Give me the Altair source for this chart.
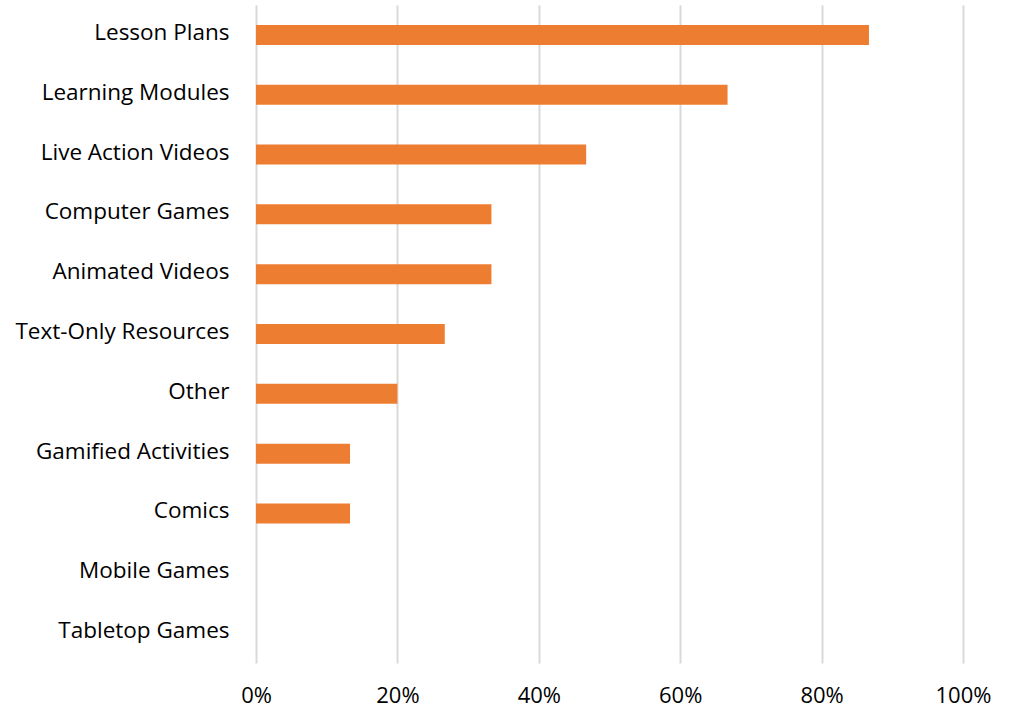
import altair as alt
import pandas as pd

categories = ["Lesson Plans", "Learning Modules", "Live Action Videos", "Computer Games",
              "Animated Videos", "Text-Only Resources", "Other", "Gamified Activities",
              "Comics", "Mobile Games", "Tabletop Games"]
values = [0.867, 0.667, 0.467, 0.333, 0.333, 0.267, 0.20, 0.133, 0.133, 0.0, 0.0]

df = pd.DataFrame({"category": categories, "value": values})

FONT = "Open Sans"

chart = alt.Chart(df).mark_bar(color="#ED7D31").encode(
    x=alt.X("value:Q",
            scale=alt.Scale(domain=[0, 1], nice=False),
            axis=alt.Axis(format=".0%", values=[0, 0.2, 0.4, 0.6, 0.8, 1.0],
                          title=None, domain=False, ticks=False,
                          grid=True, gridColor="#d9d9d9", gridWidth=2,
                          labelFontSize=22, labelFont=FONT, labelColor="#000000",
                          labelPadding=22, labelFlush=False)),
    y=alt.Y("category:N", sort=categories,
            scale=alt.Scale(paddingInner=0.666, paddingOuter=0.333),
            axis=alt.Axis(title=None, domain=False, ticks=False, grid=False,
                          labelFontSize=22.5, labelFont=FONT, labelColor="#000000",
                          labelPadding=27, labelLimit=300, labelOffset=-2)),
).properties(
    width=707, height=658,
    autosize=alt.AutoSizeParams(type="none"),
    padding={"left": 256, "top": 5, "right": 55, "bottom": 51},
).configure_view(stroke=None)

chart.save("out.html", embed_options={"renderer": "svg", "actions": False})
